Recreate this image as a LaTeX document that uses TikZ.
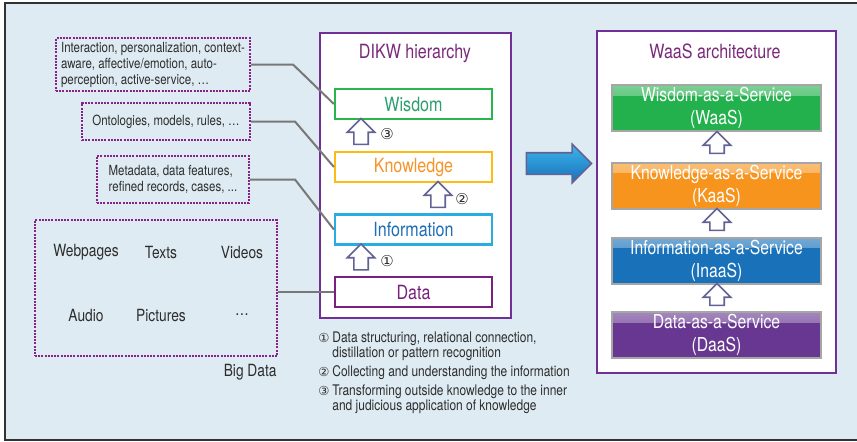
\documentclass[tikz,border=0pt]{standalone}
\usepackage{fontspec}
\setmainfont{TeX Gyre Heros}[FakeStretch=0.82]
\newfontfamily\circfont{DejaVu Sans}
\usetikzlibrary{shapes.arrows,positioning}

\definecolor{bgblue}{RGB}{222,235,242}
\definecolor{edgegray}{RGB}{50,50,50}
\definecolor{dotpurple}{RGB}{135,35,135}
\definecolor{linkgray}{RGB}{120,120,120}
\definecolor{framepurple}{RGB}{112,48,150}
\definecolor{titlepurple}{RGB}{122,42,122}
\definecolor{wisgreen}{RGB}{40,182,75}
\definecolor{wistext}{RGB}{45,160,110}
\definecolor{knowyellow}{RGB}{253,188,20}
\definecolor{knowtext}{RGB}{247,148,40}
\definecolor{infoblue}{RGB}{40,172,226}
\definecolor{infotext}{RGB}{30,110,182}
\definecolor{datapurple}{RGB}{122,32,128}
\definecolor{arrowgray}{RGB}{98,98,148}
\definecolor{svcgray}{RGB}{166,166,166}
\definecolor{svcgreen}{RGB}{34,177,76}
\definecolor{svcorange}{RGB}{247,148,29}
\definecolor{svcblue}{RGB}{24,113,185}
\definecolor{svcpurple}{RGB}{104,55,145}
\definecolor{txtgray}{RGB}{45,45,45}

\newcommand{\numc}[1]{\makebox[7pt][l]{\circfont\fontsize{6.2}{7.5}\selectfont #1}}

\begin{document}
\begin{tikzpicture}[x=0.5pt,y=-0.5pt,
  dotbox/.style={draw=dotpurple, line width=1pt, dash pattern=on 1pt off 0.6pt,
    text=txtgray, font=\fontsize{7}{8}\selectfont, align=left, inner sep=0pt},
  link/.style={draw=linkgray, line width=1pt},
  frame/.style={draw=framepurple, line width=1.2pt, fill=white, inner sep=0pt},
  title/.style={text=titlepurple, font=\fontsize{9.8}{11}\selectfont},
  level/.style={draw=#1, line width=1.1pt, fill=white, minimum width=78.5pt,
    minimum height=15pt, inner sep=0pt, font=\fontsize{9.8}{11}\selectfont},
  hollow/.style={single arrow, draw=arrowgray, fill=white, line width=0.8pt,
    shape border rotate=90, minimum width=13pt, single arrow head extend=3.3pt,
    minimum height=#1, inner sep=3.2pt},
  svc/.style={draw=svcgray, line width=1pt, fill=#1, text=white, align=center,
    minimum width=104.5pt, minimum height=23pt, inner sep=0pt,
    font=\fontsize{9.6}{11.5}\selectfont,
    path picture={\shade[top color=#1!60!white, bottom color=#1]
      (path picture bounding box.north west) rectangle
      ([yshift=-5pt]path picture bounding box.north east);}},
  item/.style={text=txtgray, font=\fontsize{8.4}{10}\selectfont},
  num/.style={text=txtgray, font=\circfont\fontsize{7.5}{8}\selectfont}]

\useasboundingbox (0,0) rectangle (857,441);
\fill[bgblue] (5,3) rectangle (857,440);
\draw[edgegray, line width=1pt] (857,3) -- (5,3) -- (5,440) -- (857,440);

% left side boxes
\node[dotbox, minimum width=97pt, minimum height=26.5pt] (ctx) at (153,64.5)
  {Interaction, personalization, context-\\aware, affective/emotion, auto-\\perception, active-service, \ldots};
\node[dotbox, minimum width=84pt, minimum height=18.5pt] (onto) at (166,121.5)
  {Ontologies, models, rules, \ldots};
\node[dotbox, minimum width=76pt, minimum height=23.5pt] (meta) at (173,179.5)
  {Metadata, data features,\\refined records, cases, ...};
\node[dotbox, minimum width=121pt, minimum height=68pt] (bigdata) at (156,288) {};

\node[item] (webpages) at (86,252) {Webpages};
\node[item] (texts) at (161,252) {Texts};
\node[item] (videos) at (242,252) {Videos};
\node[item] (audio) at (86,315) {Audio};
\node[item] (pictures) at (161,315) {Pictures};
\node[item] (more) at (242,315) {\ldots};
\node[item, anchor=east, inner sep=0pt] (bigdatalbl) at (277,372) {Big Data};

% DIKW hierarchy
\node[frame, minimum width=95.5pt, minimum height=142.5pt] (dikw) at (415.5,175.5) {};
\node[title] (dikwtitle) at (415,53) {DIKW hierarchy};
\node[level=wisgreen, text=wistext] (wisdom) at (413.5,104) {Wisdom};
\node[level=knowyellow, text=knowtext] (knowledge) at (413.5,167) {Knowledge};
\node[level=infoblue, text=infotext] (information) at (413.5,229.5) {Information};
\node[level=datapurple, text=datapurple] (data) at (413.5,292) {Data};

\node[hollow=13pt] (up3) at (361,135) {};
\node[hollow=13pt] (up2) at (438,198) {};
\node[hollow=13pt] (up1) at (361,260.5) {};
\node[num] (n3) at (387,134) {③};
\node[num] (n2) at (462,199) {②};
\node[num] (n1) at (387,261) {①};

\draw[link] (ctx.east) -- ++(42,0) -- (wisdom.west);
\draw[link] (onto.east) -- ++(44,0) -- (knowledge.west);
\draw[link] (meta.east) -- ++(45,0) -- (information.west);
\draw[link] (data.west -| bigdata.east) -- (data.west);

% notes
\node[anchor=north west, align=left, inner sep=0pt, text=txtgray,
  font=\fontsize{7.3}{7.6}\selectfont] (notes) at (318,331)
  {\numc{①}Data structuring, relational connection,\\
   \hspace*{7pt}distillation or pattern recognition\\[2pt]
   \numc{②}Collecting and understanding the information\\[2pt]
   \numc{③}Transforming outside knowledge to the inner\\
   \hspace*{7pt}and judicious application of knowledge};

% big arrow
\node[single arrow, draw=arrowgray, line width=0.8pt, top color={rgb,255:red,62;green,182;blue,234},
  bottom color={rgb,255:red,24;green,112;blue,188}, minimum height=32.5pt, minimum width=18.5pt,
  single arrow head extend=4.25pt, inner sep=5pt] (toward) at (553.5,163.5) {};

% WaaS architecture
\node[frame, minimum width=119.5pt, minimum height=171pt] (waas) at (716.5,202) {};
\node[title] (waastitle) at (715,51) {WaaS architecture};
\node[svc=svcgreen] (wsvc) at (716.5,108) {Wisdom-as-a-Service\\(WaaS)};
\node[svc=svcorange] (ksvc) at (716.5,185.5) {Knowledge-as-a-Service\\(KaaS)};
\node[svc=svcblue] (isvc) at (716.5,260.5) {Information-as-a-Service\\(InaaS)};
\node[svc=svcpurple] (dsvc) at (716.5,335) {Data-as-a-Service\\(DaaS)};

\node[hollow=11pt] (up6) at (717,146) {};
\node[hollow=11pt] (up5) at (717,223) {};
\node[hollow=11pt] (up4) at (717,298) {};
\end{tikzpicture}
\end{document}
